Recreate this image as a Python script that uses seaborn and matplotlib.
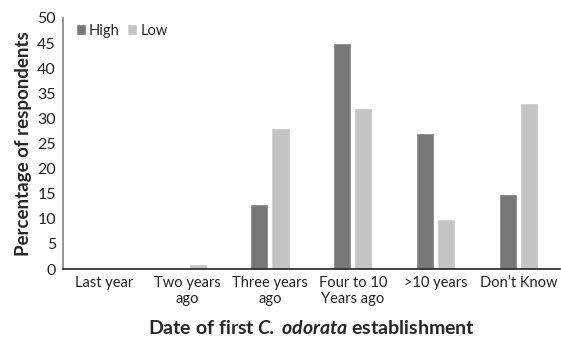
import matplotlib
matplotlib.use("Agg")
import matplotlib.pyplot as plt
import seaborn as sns
import pandas as pd

# --- data ---
categories = ["Last year", "Two years\nago", "Three years\nago",
              "Four to 10\nYears ago", ">10 years", "Don\u2019t Know"]
high = [0, 0, 13, 45, 27, 15]
low = [0, 1, 28, 32, 10, 33]

df = pd.DataFrame({
    "category": categories * 2,
    "value": high + low,
    "group": ["High"] * len(categories) + ["Low"] * len(categories),
})

sns.set_theme(style="white")
plt.rcParams["font.family"] = ["Lato", "DejaVu Sans"]
plt.rcParams["mathtext.fontset"] = "custom"
plt.rcParams["mathtext.bfit"] = "Lato:bold:italic"

fig = plt.figure(figsize=(5.61, 3.45), dpi=100)
ax = fig.add_axes([0.112, 0.22, 0.886, 0.728])

sns.barplot(data=df, x="category", y="value", hue="group",
            palette={"High": "#787878", "Low": "#c4c4c4"},
            width=0.51, gap=0.14, saturation=1, ax=ax)

ax.set_ylim(0, 50)
ax.set_yticks(range(0, 51, 5))
ax.tick_params(axis="both", length=0, colors="#222222")
ax.tick_params(axis="x", pad=5, labelsize=10.5)
ax.tick_params(axis="y", pad=5, labelsize=11.5)
ax.set_xlabel(r"Date of first $\mathbfit{C.\,odorata}$ establishment",
              fontsize=14, fontweight="bold", labelpad=9)
ax.set_ylabel("Percentage of respondents", fontsize=13.5, fontweight="bold", labelpad=4)

for s in ["top", "right"]:
    ax.spines[s].set_visible(False)
ax.spines["left"].set_color("#888888")
ax.spines["bottom"].set_color("#222222")
ax.spines["bottom"].set_linewidth(1.2)

ax.legend(loc="upper left", bbox_to_anchor=(0.0, 1.03), ncol=2, frameon=False,
          fontsize=10.5, handlelength=0.7, handleheight=0.7, handletextpad=0.2,
          columnspacing=0.5, title=None)

fig.savefig("out.png", dpi=100)
